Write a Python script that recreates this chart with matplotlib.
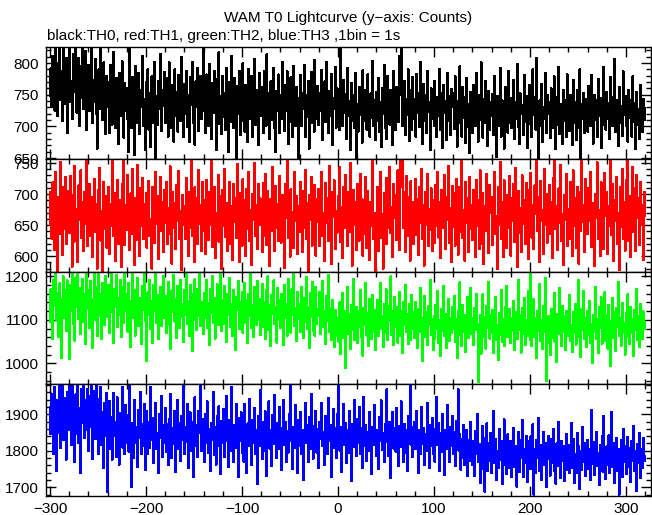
import matplotlib
matplotlib.use("Agg")
import matplotlib.pyplot as plt
import numpy as np
from matplotlib.ticker import MultipleLocator

# 1 s bins, first bin at t = -300 s
t0 = -300

th0 = [
    748, 792, 731, 812, 779, 725, 826, 770, 716, 801, 826, 742, 788, 709, 826, 775, 735, 808, 690, 784,
    826, 739, 771, 712, 815, 754, 783, 826, 722, 760, 808, 700, 796, 745, 826, 728, 770, 819, 695, 768,
    797, 725, 756, 824, 706, 773, 738, 806, 719, 665, 752, 790, 728, 826, 757, 710, 801, 744, 688, 779,
    730, 770, 690, 797, 741, 703, 818, 752, 698, 776, 735, 672, 785, 758, 716, 803, 745, 682, 768, 724,
    760, 712, 660, 826, 738, 697, 778, 722, 655, 795, 749, 706, 785, 688, 757, 730, 812, 700, 744, 662,
    770, 718, 790, 695, 752, 668, 779, 736, 705, 802, 650, 748, 703, 771, 728, 815, 693, 757, 732, 786,
    705, 752, 776, 684, 801, 733, 698, 765, 741, 676, 790, 716, 754, 692, 781, 740, 709, 810, 728, 683,
    767, 720, 788, 699, 749, 676, 778, 734, 802, 705, 753, 671, 771, 730, 792, 693, 747, 780, 712, 760,
    826, 725, 690, 782, 739, 701, 799, 746, 680, 768, 721, 788, 750, 662, 775, 731, 817, 704, 748, 688,
    780, 715, 752, 694, 792, 738, 660, 770, 707, 812, 744, 698, 777, 730, 650, 764, 719, 788, 686, 751,
    708, 800, 742, 692, 766, 726, 675, 791, 750, 711, 779, 684, 737, 806, 702, 758, 731, 670, 784, 743,
    716, 763, 690, 787, 737, 701, 814, 724, 752, 680, 771, 710, 744, 793, 697, 660, 756, 725, 782, 689,
    749, 711, 802, 736, 693, 765, 724, 787, 672, 752, 707, 778, 733, 683, 795, 742, 700, 763, 718, 650,
    745, 781, 701, 752, 728, 797, 684, 749, 715, 772, 665, 737, 786, 706, 757, 692, 805, 734, 711, 764,
    702, 752, 724, 789, 679, 741, 771, 707, 801, 733, 690, 756, 717, 783, 670, 745, 728, 794, 698, 760,
    715, 755, 694, 826, 735, 701, 774, 722, 751, 680, 792, 716, 740, 663, 768, 708, 749, 697, 784, 650,
    735, 692, 763, 718, 748, 674, 789, 709, 737, 758, 695, 782, 726, 684, 752, 713, 803, 700, 741, 679,
    755, 709, 776, 692, 738, 667, 761, 720, 797, 698, 746, 680, 780, 731, 703, 758, 722, 671, 787, 729,
    694, 763, 735, 707, 811, 750, 826, 700, 733, 772, 687, 744, 718, 790, 677, 757, 726, 695, 778, 712,
    743, 684, 783, 721, 752, 699, 802, 729, 673, 767, 708, 749, 689, 788, 723, 738, 663, 760, 711, 752,
    700, 772, 728, 683, 746, 716, 791, 694, 752, 666, 765, 721, 740, 678, 785, 708, 748, 687, 759, 730,
    752, 696, 779, 718, 668, 740, 705, 795, 728, 684, 762, 714, 747, 674, 776, 699, 736, 658, 754, 716,
    690, 766, 729, 701, 784, 735, 676, 750, 710, 801, 722, 682, 744, 705, 772, 728, 669, 756, 694, 739,
    716, 751, 687, 780, 730, 652, 748, 700, 724, 793, 684, 741, 711, 665, 763, 717, 738, 690, 788, 705,
    745, 697, 724, 774, 680, 739, 712, 798, 699, 673, 752, 719, 734, 686, 781, 707, 748, 666, 725, 766,
    704, 737, 683, 790, 718, 746, 695, 808, 724, 650, 741, 701, 767, 676, 730, 712, 785, 690, 749, 720,
    738, 681, 760, 712, 697, 779, 723, 664, 746, 703, 794, 688, 735, 716, 672, 757, 708, 742, 684, 782,
    719, 693, 750, 727, 670, 773, 706, 739, 678, 758, 722, 697, 790, 650, 735, 712, 753, 689, 744, 718,
    692, 764, 720, 700, 781, 729, 673, 749, 710, 741, 683, 775, 716, 745, 666, 731, 702, 794, 725, 695,
    755, 712, 737, 680, 778, 723, 701, 747, 806, 691, 741, 714, 669, 763, 706, 733, 685, 787, 718, 748,
    700, 731, 676, 758, 713, 742, 684, 779, 707, 737, 665, 754, 703, 728, 680, 766, 715, 691, 744, 710,
    729,
]

th1 = [
    650, 704, 628, 719, 671, 610, 735, 658, 575, 695, 636, 752, 667, 602, 711, 644, 727, 620, 680, 705,
    637, 729, 665, 583, 699, 623, 746, 676, 648, 590, 714, 659, 738, 629, 687, 608, 703, 652, 757, 617,
    676, 717, 632, 695, 598, 660, 725, 639, 684, 580, 706, 653, 742, 625, 672, 575, 720, 644, 697, 614,
    664, 711, 603, 684, 648, 757, 633, 702, 592, 669, 723, 620, 691, 654, 582, 717, 661, 757, 618, 683,
    642, 731, 677, 610, 701, 635, 740, 659, 586, 693, 626, 747, 667, 600, 709, 649, 726, 627, 684, 661,
    702, 614, 673, 721, 633, 660, 580, 712, 677, 621, 736, 652, 697, 595, 670, 728, 641, 688, 607, 706,
    654, 719, 620, 677, 636, 745, 664, 588, 703, 645, 685, 611, 715, 657, 737, 627, 673, 577, 698, 650,
    680, 628, 726, 663, 600, 704, 646, 753, 633, 676, 590, 711, 659, 694, 619, 739, 652, 683, 609, 719,
    640, 690, 603, 723, 664, 626, 703, 650, 757, 615, 672, 711, 597, 669, 644, 731, 623, 697, 657, 579,
    706, 648, 741, 631, 685, 608, 661, 720, 620, 681, 594, 716, 655, 694, 629, 748, 651, 591, 702, 668,
    617, 724, 662, 690, 600, 708, 643, 736, 624, 675, 586, 700, 659, 750, 633, 682, 611, 716, 650, 693,
    660, 606, 718, 633, 733, 669, 618, 705, 654, 584, 692, 640, 744, 665, 609, 713, 646, 684, 625, 729,
    679, 622, 698, 652, 581, 717, 661, 755, 630, 688, 599, 708, 650, 671, 613, 735, 656, 697, 604, 681,
    639, 720, 665, 606, 705, 646, 739, 627, 686, 576, 699, 659, 728, 617, 677, 642, 715, 601, 692, 655,
    708, 616, 682, 736, 632, 670, 592, 718, 653, 694, 624, 746, 644, 587, 703, 663, 722, 612, 673, 638,
    697, 652, 743, 623, 679, 597, 712, 645, 731, 661, 616, 703, 639, 750, 670, 585, 706, 650, 688, 610,
    716, 663, 625, 733, 647, 692, 601, 676, 635, 727, 613, 705, 659, 594, 687, 649, 757, 627, 670, 576,
    643, 712, 609, 681, 735, 630, 668, 580, 702, 657, 726, 619, 690, 646, 744, 637, 679, 598, 716, 661,
    698, 626, 738, 667, 610, 757, 712, 757, 645, 704, 606, 729, 676, 633, 696, 593, 721, 659, 688, 620,
    671, 725, 634, 692, 602, 711, 654, 741, 627, 683, 585, 703, 650, 732, 616, 676, 642, 709, 608, 690,
    663, 622, 715, 649, 736, 630, 688, 597, 707, 645, 669, 730, 611, 695, 658, 745, 621, 678, 590, 713,
    647, 701, 617, 724, 666, 602, 712, 639, 686, 757, 629, 675, 593, 719, 654, 694, 607, 728, 643, 683,
    626, 706, 667, 599, 723, 648, 691, 612, 738, 660, 620, 702, 587, 681, 640, 733, 655, 605, 714, 670,
    696, 618, 675, 735, 635, 664, 580, 711, 651, 752, 627, 688, 598, 722, 660, 699, 613, 680, 645, 729,
    601, 694, 657, 716, 623, 742, 667, 582, 705, 637, 677, 606, 730, 652, 691, 619, 718, 661, 595, 706,
    645, 734, 630, 682, 611, 714, 668, 757, 641, 696, 591, 721, 656, 675, 603, 740, 650, 700, 622, 673,
    715, 636, 687, 597, 726, 662, 757, 643, 681, 610, 709, 654, 747, 624, 668, 586, 699, 659, 733, 616,
    676, 627, 719, 660, 600, 738, 649, 693, 614, 712, 665, 588, 704, 640, 757, 655, 682, 606, 725, 669,
    636, 710, 656, 736, 615, 686, 645, 584, 700, 662, 751, 628, 674, 600, 719, 652, 696, 611, 734, 664,
    703, 604, 680, 648, 757, 634, 716, 592, 690, 657, 728, 619, 670, 578, 712, 647, 741, 627, 687, 609,
    722, 653, 757, 624, 697, 598, 676, 744, 639, 709, 608, 731, 661, 694, 618, 719, 650, 683, 594, 703,
    665,
]

th2 = [
    1095, 1170, 1120, 1055, 1192, 1131, 1205, 1098, 1162, 1060, 1183, 1124, 1012, 1147, 1199, 1105, 1168, 1075, 1190, 1136,
    1010, 1180, 1121, 1210, 1090, 1155, 1052, 1197, 1130, 1210, 1101, 1172, 1068, 1144, 1193, 1094, 1160, 1045, 1204, 1125,
    1167, 1082, 1189, 1119, 1035, 1148, 1210, 1100, 1176, 1063, 1136, 1210, 1108, 1159, 1055, 1184, 1127, 1088, 1200, 1141,
    1106, 1180, 1070, 1154, 1210, 1117, 1046, 1171, 1130, 1203, 1083, 1149, 1110, 1191, 1060, 1139, 1176, 1092, 1210, 1121,
    1160, 1073, 1185, 1124, 1038, 1143, 1210, 1103, 1169, 1064, 1137, 1195, 1086, 1150, 1115, 1045, 1177, 1122, 1208, 1098,
    1133, 1005, 1163, 1111, 1192, 1078, 1144, 1046, 1180, 1119, 1210, 1092, 1156, 1057, 1128, 1175, 1085, 1140, 1201, 1104,
    1155, 1070, 1116, 1186, 1087, 1141, 1033, 1167, 1117, 1202, 1096, 1148, 1059, 1177, 1124, 1082, 1190, 1106, 1135, 1050,
    1168, 1112, 1206, 1090, 1143, 1063, 1180, 1122, 1028, 1158, 1099, 1193, 1127, 1076, 1171, 1109, 1210, 1085, 1141, 1118,
    1068, 1161, 1104, 1190, 1081, 1138, 1043, 1170, 1116, 1201, 1093, 1149, 1057, 1127, 1181, 1087, 1156, 1108, 1209, 1075,
    1146, 1091, 1178, 1120, 1050, 1160, 1110, 1196, 1084, 1135, 1063, 1169, 1102, 1030, 1152, 1123, 1189, 1078, 1140, 1098,
    1163, 1070, 1126, 1185, 1092, 1145, 1046, 1159, 1108, 1206, 1082, 1134, 1060, 1175, 1114, 1087, 1188, 1100, 1148, 1066,
    1124, 1182, 1083, 1140, 1055, 1167, 1106, 1199, 1076, 1134, 1040, 1156, 1113, 1190, 1090, 1129, 1048, 1172, 1100, 1146,
    1082, 1158, 1119, 1043, 1180, 1104, 1137, 1064, 1193, 1092, 1145, 1070, 1170, 1111, 1210, 1085, 1128, 1052, 1163, 1101,
    1136, 1072, 1174, 1116, 1058, 1150, 1094, 1198, 1080, 1130, 1035, 1162, 1106, 1187, 1075, 1141, 1063, 1176, 1090, 1124,
    1109, 1163, 1068, 1131, 1189, 1083, 1120, 1044, 1155, 1097, 1203, 1073, 1126, 1054, 1146, 1088, 1037, 1122, 1080, 1062,
    1105, 1050, 1140, 1022, 1092, 1162, 1058, 1120, 990, 1085, 1175, 1068, 1113, 1033, 1134, 1076, 1193, 1054, 1100, 1130,
    1046, 1121, 1083, 1168, 1060, 1104, 1018, 1128, 1087, 1184, 1064, 1116, 1040, 1147, 1095, 1057, 1157, 1072, 1122, 1030,
    1101, 1146, 1062, 1125, 1185, 1080, 1109, 1037, 1137, 1069, 1170, 1088, 1053, 1131, 1097, 1199, 1066, 1120, 1042, 1152,
    1084, 1130, 1048, 1107, 1164, 1063, 1119, 1023, 1141, 1087, 1180, 1071, 1113, 1045, 1135, 1096, 1054, 1157, 1079, 1118,
    1058, 1141, 1093, 1036, 1124, 1072, 1173, 1086, 1005, 1104, 1155, 1060, 1117, 1043, 1131, 1089, 1192, 1065, 1102, 1030,
    1108, 1055, 1134, 1078, 1166, 1047, 1099, 1018, 1124, 1075, 1178, 1062, 1113, 1035, 1094, 1147, 1052, 1105, 1069, 1130,
    1080, 1155, 1049, 1102, 1012, 1120, 1066, 1186, 1088, 1040, 1133, 1073, 1111, 1026, 1099, 1152, 1058, 1094, 1172, 1067,
    1104, 1043, 1127, 1076, 1160, 1090, 958, 1051, 1112, 1022, 1096, 1158, 1061, 1107, 1034, 1132, 1081, 1187, 1057, 1110,
    1070, 1122, 1025, 1098, 1153, 1054, 1089, 1008, 1115, 1065, 1168, 1049, 1102, 1040, 1130, 1080, 1178, 1060, 1095, 1124,
    1047, 1105, 1074, 1142, 1030, 1093, 1118, 1056, 1190, 1077, 1110, 1025, 1126, 1068, 1150, 1043, 1099, 1063, 1165, 1088,
    1053, 1210, 1040, 1096, 1148, 1060, 1104, 1012, 1120, 1075, 1181, 1052, 1100, 1032, 1131, 1071, 1196, 960, 1046, 1108,
    1085, 1020, 1125, 1058, 1097, 1162, 1050, 1103, 1003, 1113, 1068, 1173, 1091, 1040, 1132, 1073, 1109, 1030, 1121, 1063,
    1098, 1156, 1051, 1088, 1026, 1117, 1070, 1137, 1043, 1106, 1192, 1060, 1096, 1015, 1124, 1077, 1165, 1055, 1103, 1038,
    1121, 1066, 1142, 1047, 1090, 1000, 1111, 1073, 1175, 1057, 1101, 1023, 1129, 1082, 1151, 1045, 1095, 1064, 1163, 1052,
    1110, 1034, 1133, 1076, 995, 1097, 1150, 1059, 1117, 1028, 1126, 1084, 1186, 1062, 1104, 1041, 1139, 1070, 1093, 1020,
    1115, 1060, 1158, 1087, 1044, 1130, 1069, 1101, 1017, 1122, 1076, 1171, 1053, 1108, 1037, 1136, 1084, 1057, 1119, 1095,
    1078,
]

th3 = [
    1920, 1846, 1955, 1866, 1790, 1975, 1895, 1745, 1938, 1850, 1983, 1808, 1910, 1983, 1830, 1945, 1872, 1776, 1962, 1858,
    1983, 1890, 1815, 1978, 1862, 1930, 1768, 1955, 1845, 1983, 1822, 1918, 1740, 1970, 1876, 1983, 1834, 1940, 1858, 1968,
    1800, 1950, 1866, 1983, 1778, 1895, 1965, 1832, 1983, 1872, 1790, 1942, 1850, 1976, 1816, 1905, 1752, 1930, 1840, 1958,
    1688, 1860, 1936, 1805, 1893, 1776, 1958, 1841, 1880, 1784, 1946, 1828, 1762, 1904, 1852, 1975, 1808, 1882, 1790, 1925,
    1822, 1898, 1798, 1983, 1842, 1700, 1876, 1780, 1940, 1820, 1866, 1755, 1912, 1836, 1960, 1790, 1872, 1812, 1928, 1746,
    1860, 1910, 1792, 1878, 1808, 1975, 1830, 1890, 1766, 1862, 1932, 1804, 1850, 1738, 1902, 1836, 1950, 1784, 1870, 1822,
    1918, 1798, 1872, 1760, 1888, 1835, 1956, 1780, 1862, 1818, 1910, 1742, 1850, 1938, 1806, 1876, 1772, 1895, 1830, 1983,
    1792, 1866, 1824, 1928, 1752, 1858, 1905, 1800, 1878, 1728, 1845, 1946, 1812, 1870, 1783, 1910, 1848, 1983, 1800, 1888,
    1840, 1770, 1900, 1822, 1935, 1795, 1860, 1745, 1876, 1830, 1962, 1788, 1866, 1762, 1896, 1812, 1922, 1850, 1735, 1882,
    1820, 1915, 1782, 1860, 1950, 1826, 1756, 1884, 1800, 1975, 1842, 1768, 1870, 1808, 1928, 1835, 1728, 1890, 1826, 1905,
    1795, 1866, 1770, 1928, 1840, 1740, 1875, 1812, 1943, 1852, 1760, 1884, 1822, 1916, 1790, 1858, 1710, 1895, 1812, 1966,
    1836, 1778, 1880, 1800, 1908, 1830, 1730, 1866, 1935, 1806, 1856, 1758, 1898, 1818, 1954, 1842, 1780, 1875, 1804, 1920,
    1832, 1746, 1862, 1940, 1816, 1878, 1770, 1853, 1795, 1900, 1826, 1983, 1843, 1750, 1866, 1808, 1925, 1836, 1738, 1885,
    1814, 1905, 1790, 1858, 1720, 1840, 1932, 1822, 1870, 1768, 1892, 1805, 1955, 1850, 1778, 1868, 1830, 1910, 1795, 1860,
    1752, 1880, 1832, 1930, 1812, 1852, 1760, 1896, 1838, 1792, 1945, 1826, 1870, 1728, 1846, 1915, 1808, 1862, 1780, 1900,
    1830, 1983, 1800, 1866, 1742, 1850, 1928, 1815, 1876, 1766, 1858, 1795, 1910, 1836, 1718, 1872, 1810, 1938, 1842, 1785,
    1886, 1820, 1920, 1790, 1862, 1752, 1843, 1948, 1812, 1870, 1772, 1852, 1800, 1906, 1832, 1736, 1864, 1815, 1926, 1840,
    1786, 1858, 1750, 1892, 1828, 1938, 1802, 1850, 1768, 1874, 1825, 1968, 1845, 1785, 1880, 1726, 1838, 1906, 1806, 1862,
    1798, 1916, 1834, 1758, 1868, 1810, 1935, 1842, 1770, 1874, 1795, 1858, 1745, 1895, 1828, 1978, 1816, 1866, 1782, 1846,
    1880, 1805, 1908, 1832, 1738, 1856, 1790, 1920, 1818, 1863, 1762, 1846, 1800, 1932, 1830, 1752, 1870, 1812, 1890, 1792,
    1845, 1770, 1862, 1948, 1815, 1876, 1745, 1848, 1796, 1900, 1826, 1733, 1858, 1806, 1925, 1838, 1768, 1866, 1812, 1895,
    1790, 1852, 1758, 1882, 1816, 1968, 1800, 1846, 1748, 1832, 1780, 1870, 1762, 1815, 1858, 1732, 1830, 1772, 1880, 1800,
    1760, 1828, 1730, 1855, 1790, 1900, 1770, 1818, 1712, 1800, 1868, 1750, 1836, 1688, 1786, 1875, 1745, 1822, 1772, 1848,
    1740, 1812, 1908, 1766, 1832, 1720, 1800, 1752, 1860, 1776, 1826, 1708, 1806, 1886, 1760, 1820, 1735, 1845, 1790, 1752,
    1828, 1728, 1800, 1862, 1756, 1812, 1702, 1786, 1852, 1742, 1830, 1780, 1885, 1728, 1806, 1766, 1840, 1715, 1796, 1826,
    1750, 1840, 1775, 1872, 1680, 1806, 1740, 1830, 1780, 1890, 1745, 1815, 1720, 1796, 1852, 1760, 1822, 1700, 1800, 1840,
    1778, 1732, 1832, 1766, 1860, 1744, 1802, 1710, 1820, 1758, 1880, 1786, 1725, 1828, 1772, 1812, 1716, 1796, 1846, 1748,
    1815, 1740, 1798, 1875, 1752, 1832, 1712, 1790, 1738, 1850, 1778, 1812, 1695, 1800, 1746, 1866, 1770, 1822, 1730, 1788,
    1830, 1750, 1805, 1720, 1912, 1765, 1824, 1733, 1810, 1852, 1758, 1795, 1705, 1816, 1772, 1840, 1742, 1895, 1784, 1722,
    1812, 1762, 1842, 1738, 1800, 1905, 1755, 1822, 1712, 1790, 1836, 1745, 1806, 1680, 1778, 1830, 1728, 1860, 1770, 1812,
    1736, 1795, 1838, 1756, 1808, 1715, 1826, 1772, 1868, 1745, 1800, 1690, 1818, 1766, 1850, 1726, 1804, 1752, 1835, 1786,
    1772,
]

series = [th0, th1, th2, th3]
colors = ["black", "#ff0000", "#00ff00", "#0000ff"]
ylims = [(649, 825), (575, 757), (953, 1210), (1676, 1983)]
major = [50, 50, 100, 100]
minor = [10, 10, 20, 20]

plt.rcParams["font.family"] = ["Liberation Sans", "DejaVu Sans"]
plt.rcParams["font.size"] = 11

fig = plt.figure(figsize=(6.52, 5.15), dpi=100)

# panel edges in pixels from top of figure
edges = [47.3, 158.7, 271.7, 384.0, 496.0]
left, right = 45.7 / 652, 650.7 / 652

for i, vals in enumerate(series):
    y0 = 1 - edges[i + 1] / 515
    h = (edges[i + 1] - edges[i]) / 515
    ax = fig.add_axes([left, y0, right - left, h])
    t = np.arange(len(vals)) + t0
    ax.plot(t, vals, color=colors[i], lw=0.75, drawstyle="steps-mid", antialiased=False)
    ax.set_xlim(-304.5, 325.7)
    ax.set_ylim(*ylims[i])
    ax.xaxis.set_major_locator(MultipleLocator(100))
    ax.xaxis.set_minor_locator(MultipleLocator(20))
    ax.yaxis.set_major_locator(MultipleLocator(major[i]))
    ax.yaxis.set_minor_locator(MultipleLocator(minor[i]))
    ax.tick_params(which="both", direction="in", top=True, right=True, colors="black")
    ax.tick_params(which="major", length=7, width=1)
    ax.tick_params(which="minor", length=3.5, width=1)
    ax.tick_params(axis="y", pad=5)
    for s in ax.spines.values():
        s.set_linewidth(1.0)
    if i < 3:
        ax.tick_params(labelbottom=False)
    else:
        ax.tick_params(axis="x", pad=4)

fig.text(348 / 652, 1 - 18 / 515, "WAM T0 Lightcurve (y\u2212axis: Counts)",
         ha="center", va="center", fontsize=11)
fig.text(47 / 652, 1 - 36 / 515, "black:TH0, red:TH1, green:TH2, blue:TH3 ,1bin = 1s",
         ha="left", va="center", fontsize=11)

fig.savefig("out.png", dpi=100)
